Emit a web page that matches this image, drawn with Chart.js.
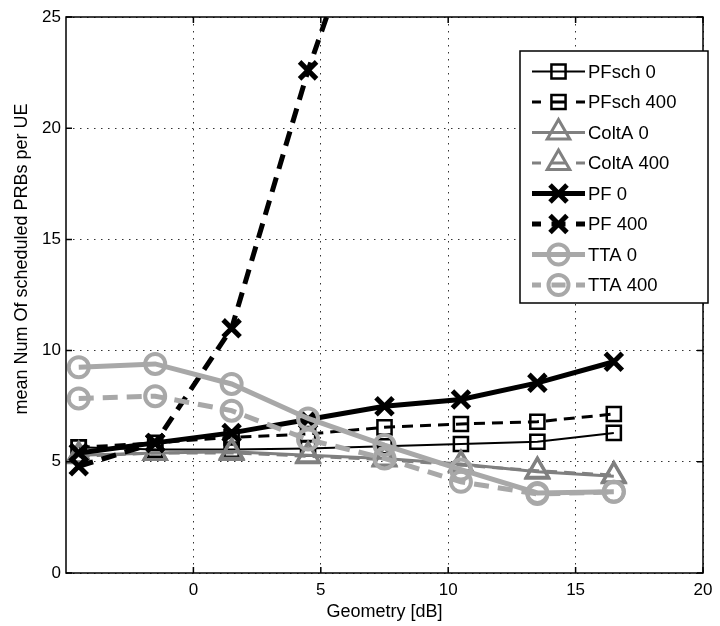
<!DOCTYPE html>
<html>
<head>
<meta charset="utf-8">
<title>Scheduled PRBs per UE</title>
<script src="https://cdn.jsdelivr.net/npm/chart.js@4.4.0/dist/chart.umd.min.js"></script>
<style>
  html, body { margin: 0; padding: 0; background: #fff; }
  #wrap { width: 720px; height: 626px; }
</style>
</head>
<body>
<div id="wrap"><canvas id="prb-chart" width="720" height="626"></canvas></div>
<script>
// Geometry points (dB) and mean scheduled PRBs per UE for each scheduler / load
const geometry = [-4.5, -1.5, 1.5, 4.5, 7.5, 10.5, 13.5, 16.5];
const pfsch0 = [5.65, 5.55, 5.55, 5.6, 5.7, 5.8, 5.9, 6.3];
const pfsch400 = [5.65, 5.85, 6.1, 6.25, 6.55, 6.7, 6.8, 7.15];
const colta0 = [5.3, 5.4, 5.45, 5.3, 5.15, 4.9, 4.55, 4.35];
const colta400 = [5.25, 5.4, 5.4, 5.25, 5.1, 4.85, 4.6, 4.4];
const pf0 = [5.4, 5.85, 6.3, 6.9, 7.5, 7.8, 8.55, 9.5];
const pf400 = [4.8, 5.85, 11.0, 22.6, 32.5, null, null, null];
const tta0 = [9.25, 9.4, 8.5, 6.95, 5.75, 4.65, 3.6, 3.65];
const tta400 = [7.85, 7.95, 7.3, 6.0, 5.15, 4.1, 3.55, 3.65];

const seriesNames = ["PFsch 0", "PFsch 400", "ColtA 0", "ColtA 400", "PF 0", "PF 400", "TTA 0", "TTA 400"];
const xTicks = [0, 5, 10, 15, 20];
const yTicks = [0, 5, 10, 15, 20, 25];

const FONT = "'Liberation Sans', Arial, Helvetica, sans-serif";
const DARK = "#000000";
const MID = "#808080";
const LIGHT = "#a8a8a8";
const HOLLOW = "rgba(0,0,0,0)";

function points(values) {
  return geometry.map((g, i) => ({ x: g, y: values[i] }));
}

function series(label, values, color, width, dashed, style, radius, markerWidth) {
  return {
    label,
    data: points(values),
    borderColor: color,
    borderWidth: width,
    borderDash: dashed ? (width >= 5 ? [15, 9] : [11, 7]) : [],
    pointStyle: style,
    pointRadius: radius,
    pointHoverRadius: radius,
    pointBorderColor: color,
    pointBackgroundColor: HOLLOW,
    pointBorderWidth: markerWidth,
    tension: 0,
    fill: false,
    spanGaps: false,
    dashed,
  };
}

const datasets = [
  series(seriesNames[0], pfsch0, DARK, 2, false, "rect", 10, 2.5),
  series(seriesNames[1], pfsch400, DARK, 3, true, "rect", 10, 2.5),
  series(seriesNames[2], colta0, MID, 3, false, "triangle", 13, 3),
  series(seriesNames[3], colta400, MID, 3, true, "triangle", 13, 3),
  series(seriesNames[4], pf0, DARK, 5, false, "crossRot", 12, 5),
  series(seriesNames[5], pf400, DARK, 5, true, "crossRot", 12, 5),
  series(seriesNames[6], tta0, LIGHT, 5, false, "circle", 10, 4),
  series(seriesNames[7], tta400, LIGHT, 5, true, "circle", 10, 4),
];
// later series sit on top of earlier ones
datasets.forEach((d, i) => { d.order = datasets.length - i; });

// Axis box with inward ticks, the y title and the line+marker legend
const frame = {
  id: "frame",
  afterDatasetsDraw(chart) {
    const { ctx, chartArea: a, scales: { x, y } } = chart;
    ctx.save();
    ctx.strokeStyle = "#000";
    ctx.lineWidth = 1.5;
    ctx.setLineDash([]);
    ctx.strokeRect(a.left, a.top, a.right - a.left, a.bottom - a.top);
    ctx.beginPath();
    xTicks.forEach((v) => {
      const px = x.getPixelForValue(v);
      ctx.moveTo(px, a.bottom); ctx.lineTo(px, a.bottom - 6);
      ctx.moveTo(px, a.top); ctx.lineTo(px, a.top + 6);
    });
    yTicks.forEach((v) => {
      const py = y.getPixelForValue(v);
      ctx.moveTo(a.left, py); ctx.lineTo(a.left + 6, py);
      ctx.moveTo(a.right, py); ctx.lineTo(a.right - 6, py);
    });
    ctx.stroke();
    ctx.restore();
  },
  afterDraw(chart) {
    const { ctx } = chart;

    // y axis title
    ctx.save();
    ctx.translate(22, 259);
    ctx.rotate(-Math.PI / 2);
    ctx.font = "18px " + FONT;
    ctx.fillStyle = "#000";
    ctx.textAlign = "center";
    ctx.textBaseline = "middle";
    ctx.fillText("mean Num Of scheduled PRBs per UE", 0, 0);
    ctx.restore();

    // legend
    const box = { left: 520, top: 51, right: 708, bottom: 303 };
    ctx.save();
    ctx.fillStyle = "#fff";
    ctx.fillRect(box.left, box.top, box.right - box.left, box.bottom - box.top);
    ctx.strokeStyle = "#000";
    ctx.lineWidth = 1.5;
    ctx.strokeRect(box.left, box.top, box.right - box.left, box.bottom - box.top);

    const x0 = 532, x1 = 585, xm = (x0 + x1) / 2;
    chart.data.datasets.forEach((ds, i) => {
      const yc = 71.5 + i * 30.5;
      ctx.strokeStyle = ds.borderColor;
      ctx.lineWidth = ds.borderWidth;
      ctx.setLineDash([]);
      ctx.beginPath();
      if (ds.dashed) {
        ctx.moveTo(x0, yc); ctx.lineTo(x0 + 9, yc);
        ctx.moveTo(xm - 7, yc); ctx.lineTo(xm + 7, yc);
        ctx.moveTo(x1 - 9, yc); ctx.lineTo(x1, yc);
      } else {
        ctx.moveTo(x0, yc); ctx.lineTo(x1, yc);
      }
      ctx.stroke();
      ctx.fillStyle = HOLLOW;
      ctx.strokeStyle = ds.pointBorderColor;
      ctx.lineWidth = ds.pointBorderWidth;
      Chart.helpers.drawPoint(ctx, {
        pointStyle: ds.pointStyle,
        radius: ds.pointRadius,
        rotation: 0,
        borderWidth: ds.pointBorderWidth,
      }, xm, yc);
      ctx.fillStyle = "#000";
      ctx.font = "18.5px " + FONT;
      ctx.textAlign = "left";
      ctx.textBaseline = "middle";
      ctx.fillText(ds.label, 588, yc + 1);
    });
    ctx.restore();
  },
};

new Chart(document.getElementById("prb-chart"), {
  type: "line",
  data: { datasets },
  options: {
    responsive: false,
    animation: false,
    events: [],
    layout: { padding: { top: 15, right: 10, left: 0, bottom: 0 } },
    plugins: {
      legend: { display: false },
      tooltip: { enabled: false },
    },
    scales: {
      x: {
        type: "linear",
        min: -5,
        max: 20,
        afterBuildTicks: (scale) => {
          scale.ticks = xTicks.map((v) => ({ value: v }));
        },
        afterFit: (scale) => { scale.height = 53; },
        grid: { color: "#333", lineWidth: 1, drawTicks: false },
        border: { display: false, dash: [1.5, 5.5] },
        ticks: { color: "#000", padding: 7, font: { family: FONT, size: 17 } },
        title: {
          display: true,
          text: "Geometry [dB]",
          color: "#000",
          font: { family: FONT, size: 18 },
          padding: { top: 0, bottom: 3 },
        },
      },
      y: {
        type: "linear",
        min: 0,
        max: 25,
        afterBuildTicks: (scale) => {
          scale.ticks = yTicks.map((v) => ({ value: v }));
        },
        afterFit: (scale) => { scale.width = 66; },
        grid: { color: "#333", lineWidth: 1, drawTicks: false },
        border: { display: false, dash: [1.5, 5.5] },
        ticks: { color: "#000", padding: 5, font: { family: FONT, size: 17 } },
      },
    },
  },
  plugins: [frame],
});
</script>
</body>
</html>
